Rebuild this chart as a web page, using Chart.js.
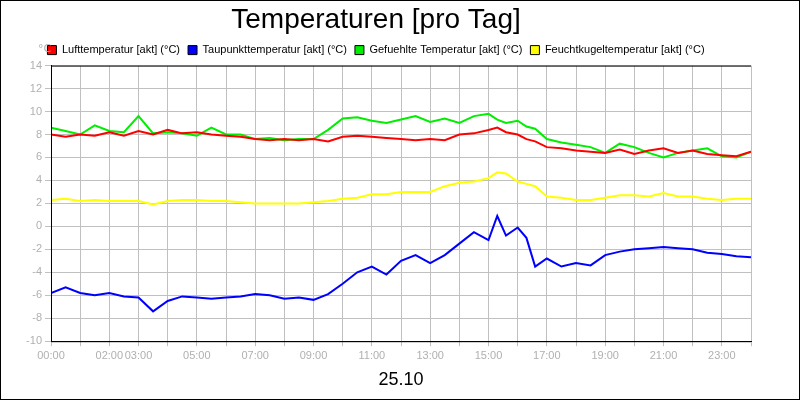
<!DOCTYPE html>
<html><head><meta charset="utf-8">
<script src="https://cdn.jsdelivr.net/npm/chart.js@4/dist/chart.umd.min.js"></script>
<style>html,body{margin:0;padding:0;background:#fff}#w{position:relative;width:798px;height:398px;border:1px solid #000}</style>
</head><body><div id="w"><canvas id="c" width="798" height="398"></canvas></div>
<script>
const hours = [0,0.5,1,1.5,2,2.5,3,3.5,4,4.5,5,5.5,6,6.5,7,7.5,8,8.5,9,9.5,10,10.5,11,11.5,12,12.5,13,13.5,14,14.5,15,15.3,15.6,16,16.3,16.6,17,17.5,18,18.5,19,19.5,20,20.5,21,21.5,22,22.5,23,23.5,24];
const luft = [8.0,7.8,8.0,7.9,8.2,7.9,8.3,8.0,8.4,8.1,8.2,8.0,7.9,7.8,7.6,7.5,7.6,7.5,7.6,7.4,7.8,7.9,7.8,7.7,7.6,7.5,7.6,7.5,8.0,8.1,8.4,8.6,8.2,8.0,7.6,7.4,6.9,6.8,6.6,6.5,6.4,6.7,6.3,6.6,6.8,6.4,6.6,6.3,6.2,6.1,6.5];
const taupunkt = [-5.8,-5.3,-5.8,-6.0,-5.8,-6.1,-6.2,-7.4,-6.5,-6.1,-6.2,-6.3,-6.2,-6.1,-5.9,-6.0,-6.3,-6.2,-6.4,-5.9,-5.0,-4.0,-3.5,-4.2,-3.0,-2.5,-3.2,-2.5,-1.5,-0.5,-1.2,0.9,-0.8,-0.1,-1.0,-3.5,-2.8,-3.5,-3.2,-3.4,-2.5,-2.2,-2.0,-1.9,-1.8,-1.9,-2.0,-2.3,-2.4,-2.6,-2.7];
const gefuehlt = [8.6,8.3,8.0,8.8,8.3,8.2,9.6,8.1,8.2,8.1,7.9,8.6,8.0,8.0,7.6,7.7,7.5,7.6,7.6,8.4,9.4,9.5,9.2,9.0,9.3,9.6,9.1,9.4,9.0,9.6,9.8,9.3,9.0,9.2,8.7,8.5,7.6,7.3,7.1,6.9,6.4,7.2,6.9,6.4,6.0,6.4,6.6,6.8,6.1,6.0,6.5];
const feucht = [2.3,2.4,2.2,2.3,2.2,2.2,2.2,1.9,2.2,2.3,2.3,2.2,2.2,2.1,2.0,2.0,2.0,2.0,2.1,2.2,2.4,2.5,2.8,2.8,3.0,3.0,3.0,3.5,3.8,3.9,4.2,4.7,4.6,3.9,3.7,3.5,2.6,2.5,2.3,2.3,2.5,2.7,2.7,2.6,2.9,2.6,2.6,2.4,2.3,2.4,2.4];
const yTicks = [14,12,10,8,6,4,2,0,-2,-4,-6,-8,-10];
const xLabels = {0:'00:00',2:'02:00',3:'03:00',5:'05:00',7:'07:00',9:'09:00',11:'11:00',13:'13:00',15:'15:00',17:'17:00',19:'19:00',21:'21:00',23:'23:00'};
const names = ['Lufttemperatur [akt] (°C)','Taupunkttemperatur [akt] (°C)','Gefuehlte Temperatur [akt] (°C)','Feuchtkugeltemperatur [akt] (°C)'];
const colors = ['#ff0000','#0000ff','#00ee00','#ffff00'];
const series = [luft,taupunkt,gefuehlt,feucht];
const mk = (d)=>hours.map((h,i)=>({x:h,y:d[i]}));
const extra = {id:'extra',afterDraw(ch){const c=ch.ctx;c.save();c.font='11px "DejaVu Sans"';c.fillStyle='#b0b0b0';c.textAlign='left';c.textBaseline='middle';c.fillText('°C',37,48);
 c.strokeStyle='#000';c.lineWidth=1;const a=ch.chartArea;c.beginPath();c.moveTo(a.left+0.5,a.top);c.lineTo(a.left+0.5,a.bottom+0.5);c.lineTo(a.right,a.bottom+0.5);c.stroke();c.beginPath();c.moveTo(a.left,a.top+0.5);c.lineTo(a.right,a.top+0.5);c.stroke();c.restore();}};
new Chart(document.getElementById('c'),{type:'line',
 data:{datasets:series.map((d,i)=>({label:names[i],data:mk(d),borderColor:colors[i],backgroundColor:colors[i],borderWidth:2,pointRadius:0,tension:0}))},
 options:{responsive:false,animation:false,layout:{padding:{left:0,right:48,top:0,bottom:4}},
  plugins:{title:{display:true,text:'Temperaturen [pro Tag]',color:'#000',font:{family:'Liberation Sans',size:28,weight:'normal'},padding:{top:2,bottom:0}},
   legend:{position:'top',labels:{color:'#000',font:{family:'Liberation Sans',size:11},boxWidth:9,boxHeight:9,padding:8,
    generateLabels:(ch)=>names.map((n,i)=>({text:n,fillStyle:colors[i],strokeStyle:'#000',lineWidth:1,datasetIndex:i,fontColor:'#000'}))}},tooltip:{enabled:false}},
  scales:{x:{type:'linear',min:0,max:24,ticks:{stepSize:1,autoSkip:false,maxRotation:0,color:'#b0b0b0',font:{family:'Liberation Sans',size:11},callback:v=>xLabels[v]||''},
    grid:{color:'#c0c0c0',tickColor:'#c0c0c0',tickLength:5},border:{color:'#000'},
    title:{display:true,text:'25.10',color:'#000',font:{family:'Liberation Sans',size:18},padding:{top:4}}},
   y:{min:-10,max:14,afterBuildTicks:s=>{s.ticks=yTicks.map(v=>({value:v}));},ticks:{color:'#b0b0b0',font:{family:'Liberation Sans',size:11}},grid:{color:'#c0c0c0',tickColor:'#c0c0c0',tickLength:6},border:{color:'#000'},afterFit:s=>{s.width=50;}}}},
 plugins:[extra]});
</script></body></html>
